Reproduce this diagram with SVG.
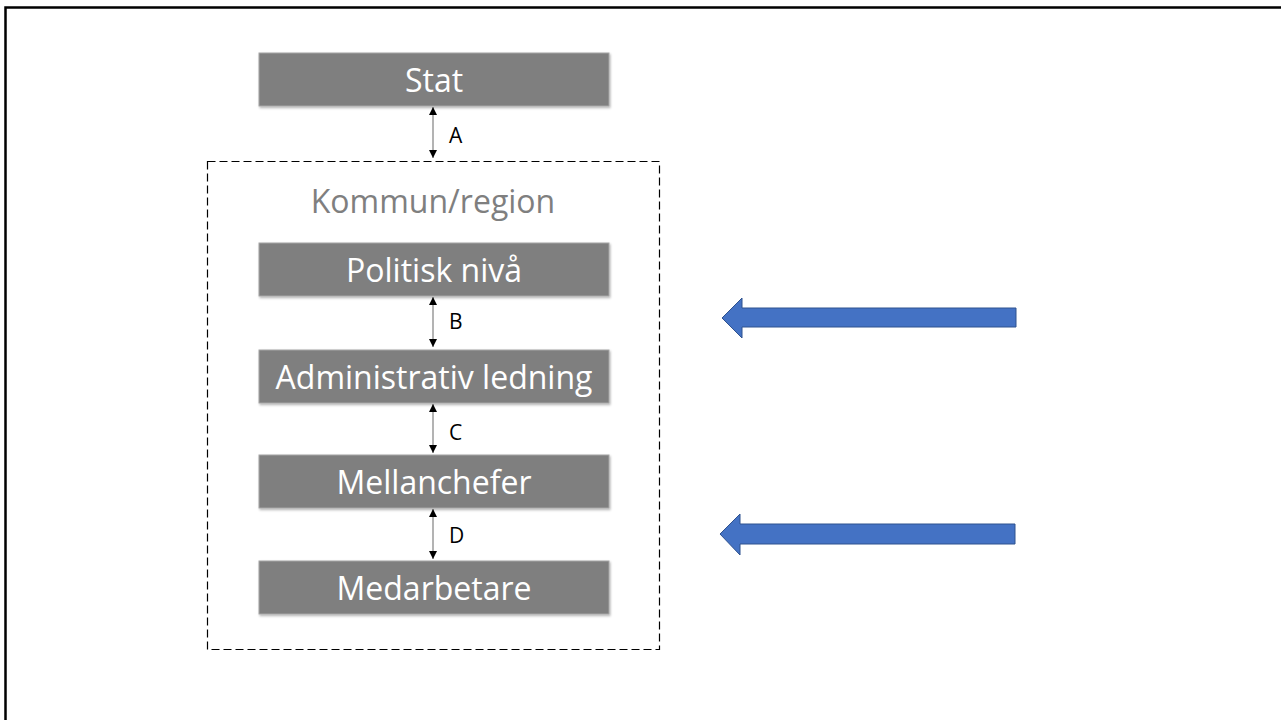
<svg xmlns="http://www.w3.org/2000/svg" width="1281" height="720" viewBox="0 0 1281 720">
<defs>
<style>
.box{fill:#7f7f7f;stroke:#a6a6a6;stroke-width:1}
.bt{font-family:"Open Sans","Liberation Sans",sans-serif;font-size:32px;fill:#ffffff;text-anchor:middle}
.lbl{font-family:"Open Sans","Liberation Sans",sans-serif;font-size:21px;fill:#000000}
.conn{stroke:#808080;stroke-width:1.2;fill:none;marker-start:url(#ah);marker-end:url(#ah)}
.blue{fill:#4472c4;stroke:#2f528f;stroke-width:1}
</style>
<marker id="ah" viewBox="0 0 10 10" refX="10" refY="5" markerWidth="8" markerHeight="8" markerUnits="userSpaceOnUse" orient="auto-start-reverse">
<path d="M0,0 L10,5 L0,10 Z" fill="#000"/>
</marker>
<filter id="sh" x="-5%" y="-20%" width="110%" height="140%">
<feDropShadow dx="1" dy="1.5" stdDeviation="1" flood-color="#000" flood-opacity="0.3"/>
</filter>
</defs>
<rect width="1281" height="720" fill="#fff"/>
<path d="M5.5,720 V7.5 H1281" fill="none" stroke="#000" stroke-width="2.5"/>

<g id="kommun-region">
<rect x="207.5" y="161.5" width="452" height="488" fill="none" stroke="#000" stroke-width="1.2" stroke-dasharray="8,4"/>
<text x="433" y="213" font-family="'Open Sans','Liberation Sans',sans-serif" font-size="32" fill="#7f7f7f" text-anchor="middle">Kommun/region</text>
</g>

<g id="stat"><rect class="box" filter="url(#sh)" x="259" y="53" width="350" height="53"/><text class="bt" x="434" y="92">Stat</text></g>
<g id="politisk"><rect class="box" filter="url(#sh)" x="259" y="243" width="350" height="53"/><text class="bt" x="434" y="282">Politisk nivå</text></g>
<g id="admin"><rect class="box" filter="url(#sh)" x="259" y="350" width="350" height="53"/><text class="bt" x="434" y="389">Administrativ ledning</text></g>
<g id="mellanchefer"><rect class="box" filter="url(#sh)" x="259" y="455" width="350" height="53"/><text class="bt" x="434" y="494">Mellanchefer</text></g>
<g id="medarbetare"><rect class="box" filter="url(#sh)" x="259" y="561" width="350" height="53"/><text class="bt" x="434" y="600">Medarbetare</text></g>

<g id="connectors">
<line class="conn" x1="433" y1="107" x2="433" y2="158"/>
<line class="conn" x1="433" y1="297" x2="433" y2="347"/>
<line class="conn" x1="433" y1="404" x2="433" y2="453"/>
<line class="conn" x1="433" y1="509" x2="433" y2="559"/>
<text class="lbl" x="449" y="143">A</text>
<text class="lbl" x="449" y="329">B</text>
<text class="lbl" x="449" y="440">C</text>
<text class="lbl" x="449" y="543">D</text>
</g>

<g id="arrow1"><path class="blue" d="M722,318 L742,298 L742,308 L1016,308 L1016,327 L742,327 L742,338 Z"/></g>
<g id="arrow2"><path class="blue" d="M720,534 L740,514 L740,524 L1015,524 L1015,544 L740,544 L740,555 Z"/></g>
</svg>
